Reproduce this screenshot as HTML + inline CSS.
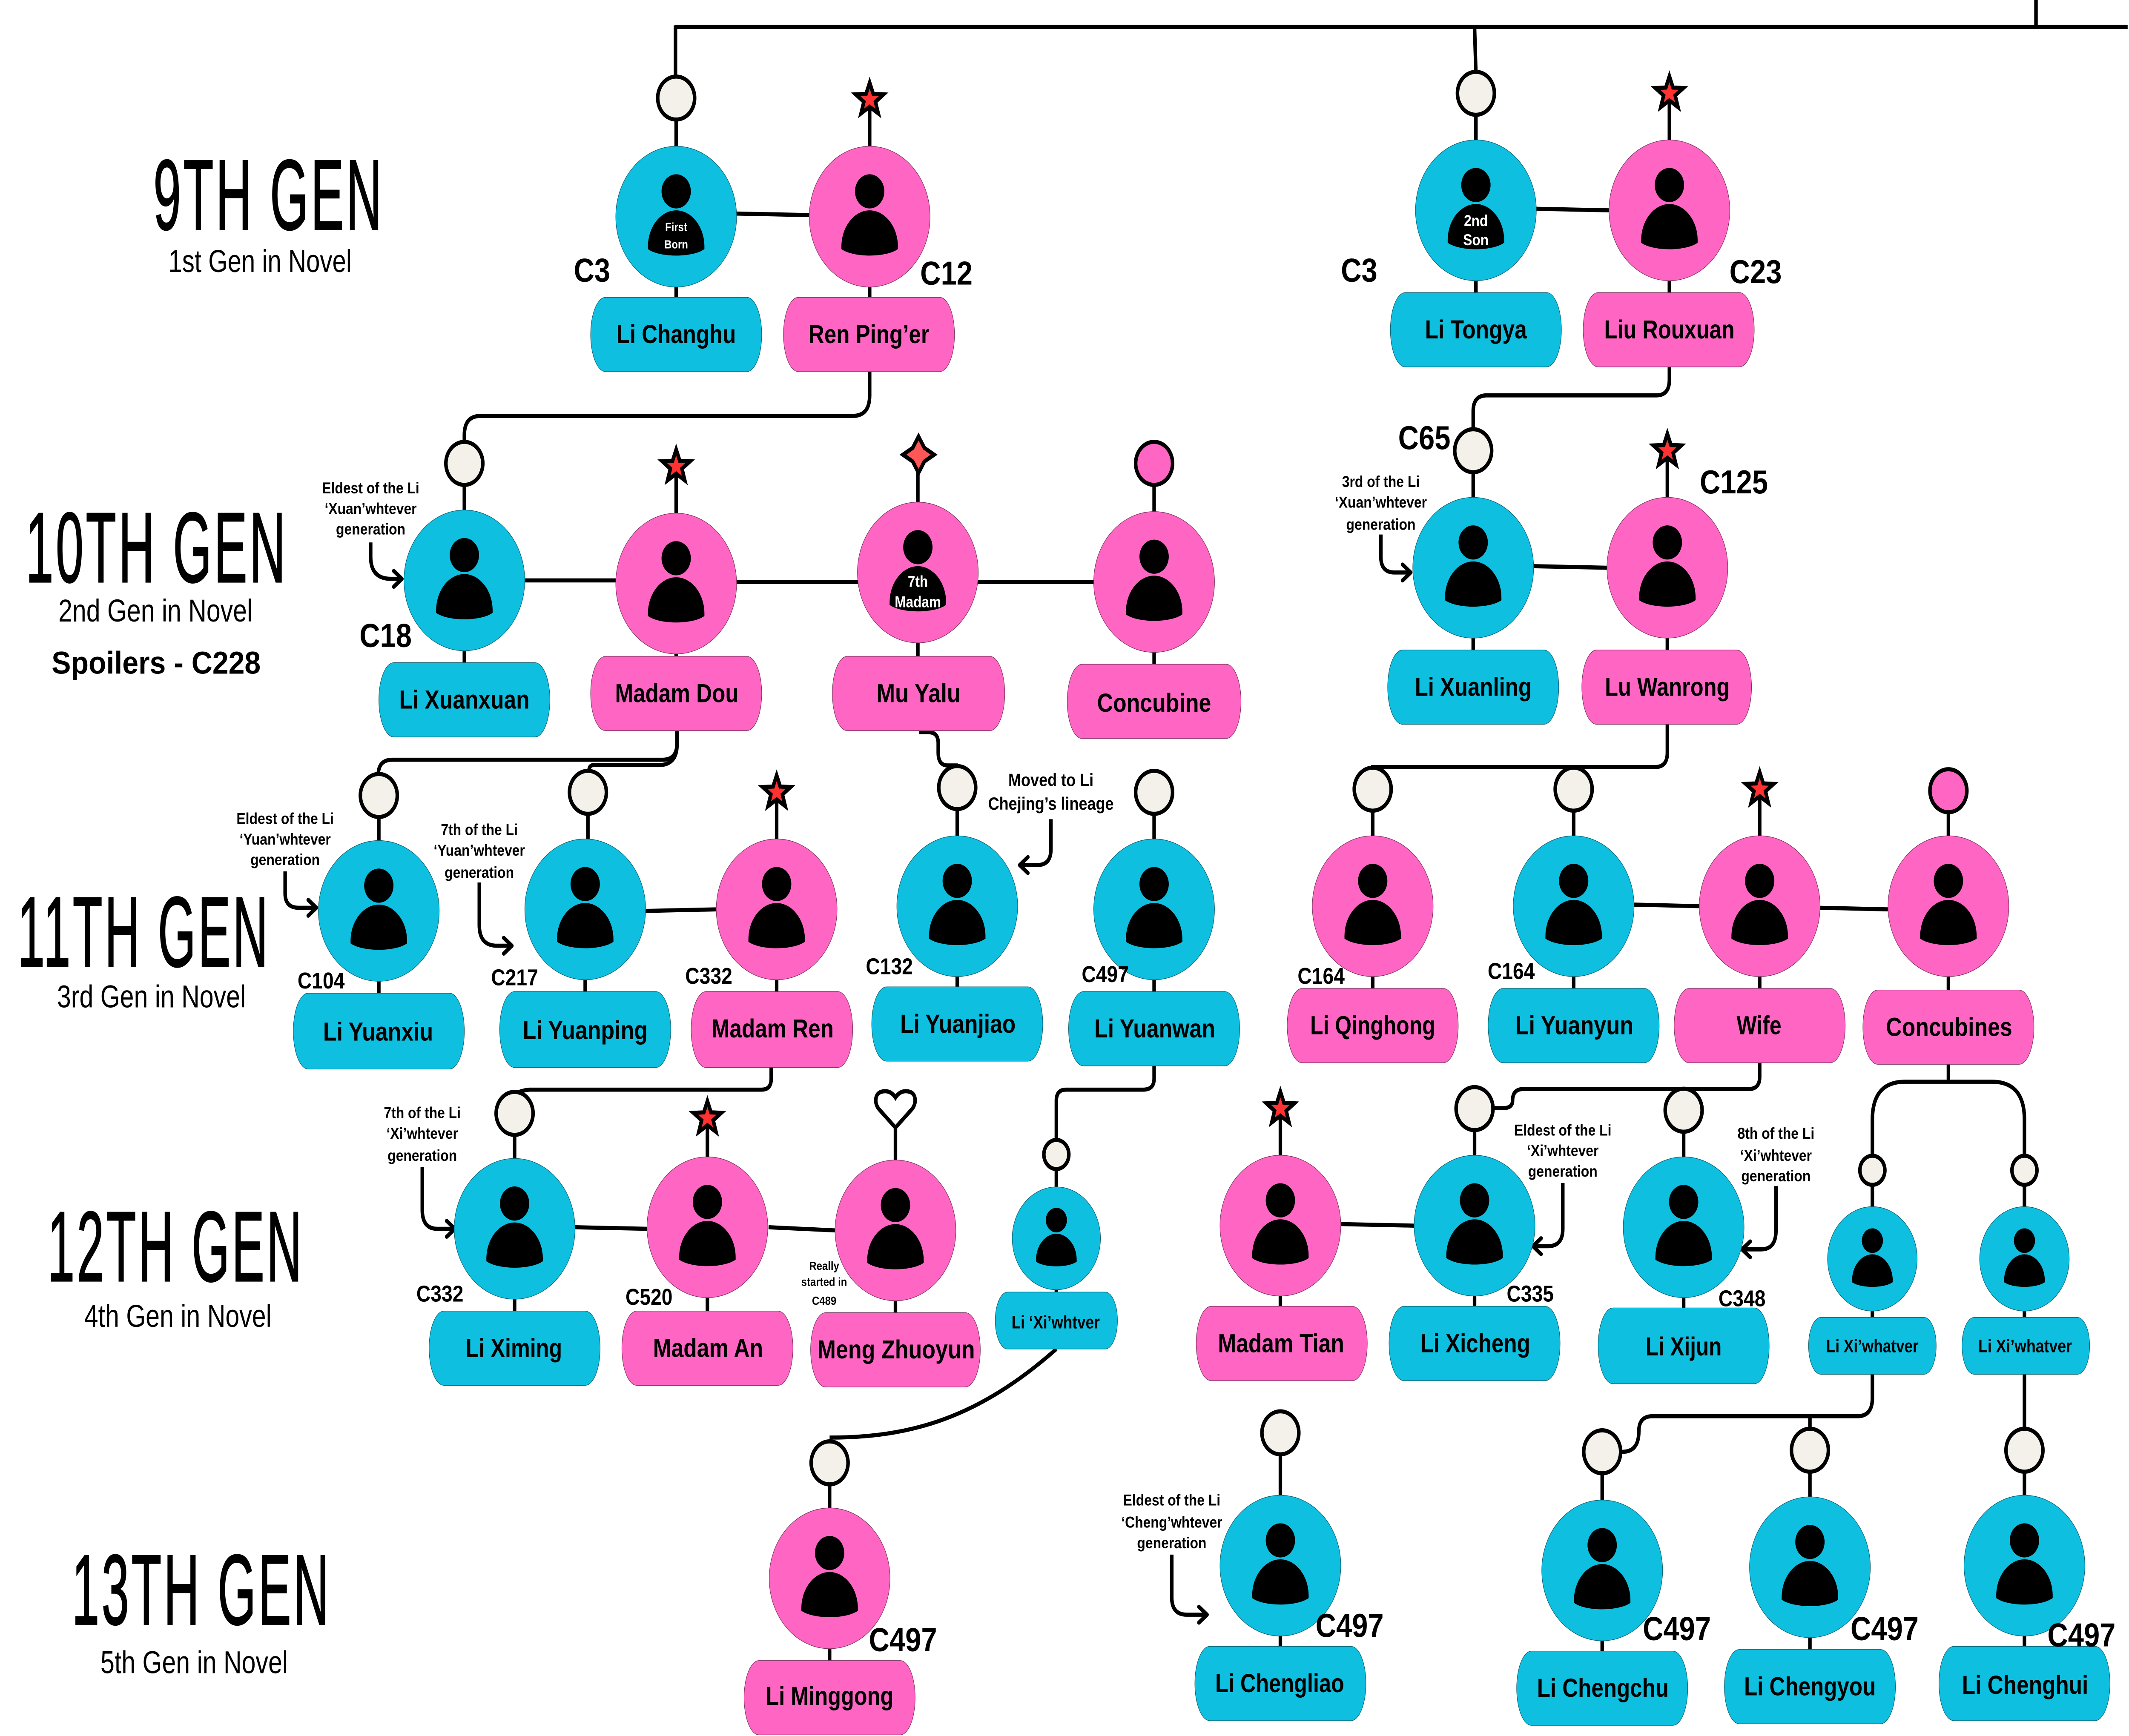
<!DOCTYPE html>
<html><head><meta charset="utf-8"><style>
html,body{margin:0;padding:0;background:#fff;width:100%;height:100%;overflow:hidden}
svg{display:block;width:100vw;height:4078px}
text{font-family:"Liberation Sans",sans-serif;fill:#000;text-anchor:middle}
.h{font-family:"Liberation Sans Narrow","Liberation Sans",sans-serif;font-size:63px;letter-spacing:3px;stroke:#000;stroke-width:.8}
.s{font-size:20px;text-anchor:start}
.n{font-size:16.5px;font-weight:700}
.c{font-size:21px;font-weight:700}
.d{font-size:14.5px;font-weight:700}
.a{font-size:10px;font-weight:700}
.i{font-weight:700;fill:#fff}
.l{fill:none;stroke:#000;stroke-width:2.6}
.r{stroke-linecap:round;stroke-linejoin:round}
.b{fill:#0EBFE0;stroke:#0a5f70;stroke-width:.35}
.p{fill:#FF66C4;stroke:#7a2f5e;stroke-width:.35}
.o{fill:#F4F0EA;stroke:#000;stroke-width:2.6}
.q{fill:#FF66C4;stroke:#000;stroke-width:2.6}
.st{fill:#FF3131;stroke:#000;stroke-width:2.6}
</style></head><body>
<svg xmlns="http://www.w3.org/2000/svg" viewBox="0 0 1568 1097.7" preserveAspectRatio="none">
<defs>
<g id="u"><circle cx="0" cy="-16" r="10.8"/><path d="M-20.8,19C-20.8,6-11,-4 0,-4C11,-4 20.8,6 20.8,19L20.8,20.5C16,23.5 7,24.6 0,24.6C-7,24.6-16,23.5-20.8,20.5Z"/></g>
<polygon id="s" class="st" points="0,-10.8 2.65,-3.64 10.27,-3.34 4.28,1.39 6.35,8.74 0,4.5 -6.35,8.74 -4.28,1.39 -10.27,-3.34 -2.65,-3.64"/>
</defs>
<rect width="1568" height="1097.7" fill="#fff"/>

<g class="l">
<path d="M497,17H1567M497.5,16V48M1086,17L1087,46M1499.5,0V17"/>
<path d="M498,62V235M640.5,63V235M1087,59V232M1229.5,59V232"/>
<path d="M342,293V466M498,295V462M676,288V462M850,293V467M1085,285V458M1228,285V458"/>
<path d="M279,503V676M433,501V531M431,531V675M572,501V675M705,498V671M850,501V674M1011,499V672M1159,499V672M1296,499V672M1435,500V673"/>
<path d="M379,704V876M521,707V876M659.5,701V877M778,730V853M943,701V873M1086,701V873M1240,702V875M1379,740V869M1491,740V869"/>
<path d="M611,925V1050M943,906V1041M1180,918V1044M1333,917V1043M1491,917V1041"/>
<path d="M540,135L596,136M1130,132L1185,133M386,367H454M542,368H632M720,368H806M1129,358L1184,359M475,576L528,575M1203,572L1252,573M1340,574L1391,575M423,776L477,777M566,776L615,778M987,774L1042,775"/>
<path d="M640.5,235V250Q640.5,263 628,263H354Q342,263 342,275V282"/>
<path d="M1229.5,232V240Q1229.5,250 1220,250H1095Q1085,250 1085,260V272"/>
<path d="M498.6,462V470Q498.6,480.4 488,480.4H289Q278.6,480.4 278.6,490"/>
<path d="M498.6,462V472Q498,483.8 485,483.8H437Q433.7,483.8 433.7,488"/>
<path d="M677,463H684Q691,463 691,470V476Q691,484 698,484H705.5"/>
<path d="M1228,458V476Q1228,485 1219,485H1011V487M1159,485V488"/>
<path d="M568,675V682Q568,689 561,689H390Q379,690 379,694"/>
<path d="M850,674V682Q850,689 842,689H785Q778,689 778,696V720"/>
<path d="M1296,672V681Q1296,688.6 1288,688.6H1122Q1114,688.6 1114,696Q1114,700.7 1107,700.7H1097M1240,689V692"/>
<path d="M1435,673V684M1379,730V708Q1379,684 1403,684H1467Q1491,684 1491,708V730"/>
<path d="M1379,869V884Q1379,895.5 1368,895.5H1217Q1207,895.5 1207,905Q1207,918 1195,918H1190M1333,895.5V905M1491,869V905"/>
<path d="M778,853C720,897 670,909 611,909"/>
</g>
<g class="l">
<path d="M273,343V352Q273,366 288,366H295"/><path d="M1017,338V352Q1017,362 1027,362H1038"/><path d="M210,551V565Q210,574 220,574H232"/><path d="M353,558V585Q353,598 366,598H376"/><path d="M774,518V537Q774,547 764,547H752"/><path d="M311,738V765Q311,777 322,777H334"/><path d="M1151,748V777Q1151,788 1140,788H1130"/><path d="M1308,750V778Q1308,790 1297,790H1284"/><path d="M863,983V1010Q863,1021 874,1021H888"/>
</g>
<g class="l r">
<path d="M290,361L296,366L290,371"/><path d="M1033,357L1039,362L1033,367"/><path d="M227,569L233,574L227,579"/><path d="M371,593L377,598L371,603"/><path d="M757,542L751,547L757,552"/><path d="M329,772L335,777L329,782"/><path d="M1135,783L1129,788L1135,793"/><path d="M1289,785L1283,790L1289,795"/><path d="M883,1016L889,1021L883,1026"/>
</g>

<g class="o">
<circle cx="498" cy="62" r="13.6"/><circle cx="1087" cy="59" r="13.6"/>
<circle cx="342" cy="293" r="13.6"/><circle cx="1085" cy="285" r="13.6"/>
<circle cx="279" cy="503" r="13.6"/><circle cx="433" cy="501" r="13.6"/><circle cx="705" cy="498" r="13.6"/><circle cx="850" cy="501" r="13.6"/><circle cx="1011" cy="499" r="13.6"/><circle cx="1159" cy="499" r="13.6"/>
<circle cx="379" cy="704" r="13.6"/><circle cx="778" cy="730" r="9.2"/><circle cx="1086" cy="701" r="13.6"/><circle cx="1240" cy="702" r="13.6"/><circle cx="1379" cy="740" r="9.2"/><circle cx="1491" cy="740" r="9.2"/>
<circle cx="611" cy="925" r="13.6"/><circle cx="943" cy="906" r="13.6"/><circle cx="1180" cy="918" r="13.6"/><circle cx="1333" cy="917" r="13.6"/><circle cx="1491" cy="917" r="13.6"/>
</g>
<circle class="q" cx="850" cy="293" r="13.6"/><circle class="q" cx="1435" cy="500" r="13.6"/>
<use href="#s" x="640.5" y="63"/><use href="#s" x="1229.5" y="59"/><use href="#s" x="498" y="295"/><use href="#s" x="1228" y="285"/><use href="#s" x="572" y="501"/><use href="#s" x="1296" y="499"/><use href="#s" x="521" y="707"/><use href="#s" x="943" y="701"/>
<path d="M676.5,276L680.8,283.2L688,287.5L680.8,291.8L676.5,299L672.2,291.8L665,287.5L672.2,283.2Z" fill="#FF5757" stroke="#000" stroke-width="2.6" stroke-miterlimit="8"/>
<path d="M659.5,713L647,701Q645,698.5 645,696Q645,690 652,690Q656.5,690 659.5,694Q662.5,690 667,690Q674,690 674,696Q674,698.5 672,701Z" fill="#fff" stroke="#000" stroke-width="2.6"/>

<g class="b">
<circle cx="498" cy="137" r="44.5"/><circle cx="1087" cy="133" r="44.5"/><circle cx="342" cy="367" r="44.5"/><circle cx="1085" cy="359" r="44.5"/>
<circle cx="279" cy="576" r="44.5"/><circle cx="431" cy="575" r="44.5"/><circle cx="705" cy="573" r="44.5"/><circle cx="850" cy="575" r="44.5"/><circle cx="1159" cy="573" r="44.5"/>
<circle cx="379" cy="777" r="44.5"/><circle cx="778" cy="783" r="32.5"/><circle cx="1086" cy="775" r="44.5"/><circle cx="1240" cy="776" r="44.5"/><circle cx="1379" cy="796" r="33"/><circle cx="1491" cy="796" r="33"/>
<circle cx="943" cy="990" r="44.5"/><circle cx="1180" cy="993" r="44.5"/><circle cx="1333" cy="991" r="44.5"/><circle cx="1491" cy="990" r="44.5"/>
</g>
<g class="p">
<circle cx="640.5" cy="137" r="44.5"/><circle cx="1229.5" cy="133" r="44.5"/><circle cx="498" cy="369" r="44.5"/><circle cx="676" cy="362" r="44.5"/><circle cx="850" cy="368" r="44.5"/><circle cx="1228" cy="359" r="44.5"/>
<circle cx="572" cy="575" r="44.5"/><circle cx="1011" cy="573" r="44.5"/><circle cx="1296" cy="573" r="44.5"/><circle cx="1435" cy="573" r="44.5"/>
<circle cx="521" cy="776" r="44.5"/><circle cx="659.5" cy="778" r="44.5"/><circle cx="943" cy="775" r="44.5"/><circle cx="611" cy="998" r="44.5"/>
</g>
<g>
<use href="#u" x="498" y="137"/><use href="#u" x="640.5" y="137"/><use href="#u" x="1087" y="133"/><use href="#u" x="1229.5" y="133"/>
<use href="#u" x="342" y="367"/><use href="#u" x="498" y="369"/><use href="#u" x="676" y="362"/><use href="#u" x="850" y="368"/><use href="#u" x="1085" y="359"/><use href="#u" x="1228" y="359"/>
<use href="#u" x="279" y="576"/><use href="#u" x="431" y="575"/><use href="#u" x="572" y="575"/><use href="#u" x="705" y="573"/><use href="#u" x="850" y="575"/><use href="#u" x="1011" y="573"/><use href="#u" x="1159" y="573"/><use href="#u" x="1296" y="573"/><use href="#u" x="1435" y="573"/>
<use href="#u" x="379" y="777"/><use href="#u" x="521" y="776"/><use href="#u" x="659.5" y="778"/><use href="#u" x="943" y="775"/><use href="#u" x="1086" y="775"/><use href="#u" x="1240" y="776"/>
<use href="#u" x="611" y="998"/><use href="#u" x="943" y="990"/><use href="#u" x="1180" y="993"/><use href="#u" x="1333" y="991"/><use href="#u" x="1491" y="990"/>
<use href="#u" transform="translate(778,783) scale(.72)"/><use href="#u" transform="translate(1379,796) scale(.72)"/><use href="#u" transform="translate(1491,796) scale(.72)"/>
</g>

<g class="b">
<rect x="435" y="188" width="126" height="47" rx="11" ry="23.5"/><rect x="1024" y="185" width="126" height="47" rx="11" ry="23.5"/>
<rect x="279" y="419" width="126" height="47" rx="11" ry="23.5"/><rect x="1022" y="411" width="126" height="47" rx="11" ry="23.5"/>
<rect x="216" y="628" width="126" height="48" rx="11" ry="24"/><rect x="368" y="627" width="126" height="48" rx="11" ry="24"/><rect x="642" y="624" width="126" height="47" rx="11" ry="23.5"/><rect x="787" y="627" width="126" height="47" rx="11" ry="23.5"/><rect x="1096" y="625" width="126" height="47" rx="11" ry="23.5"/>
<rect x="316" y="829" width="126" height="47" rx="11" ry="23.5"/><rect x="733" y="817" width="90" height="36" rx="9" ry="18"/><rect x="1023" y="826" width="126" height="47" rx="11" ry="23.5"/><rect x="1177" y="827" width="126" height="48" rx="11" ry="24"/><rect x="1332" y="833" width="94" height="36" rx="9" ry="18"/><rect x="1445" y="833" width="94" height="36" rx="9" ry="18"/>
<rect x="880" y="1041" width="126" height="47" rx="11" ry="23.5"/><rect x="1117" y="1044" width="126" height="47" rx="11" ry="23.5"/><rect x="1270" y="1043" width="126" height="47" rx="11" ry="23.5"/><rect x="1428" y="1041" width="126" height="47" rx="11" ry="23.5"/>
</g>
<g class="p">
<rect x="577" y="188" width="126" height="47" rx="11" ry="23.5"/><rect x="1166" y="185" width="126" height="47" rx="11" ry="23.5"/>
<rect x="435" y="415" width="126" height="47" rx="11" ry="23.5"/><rect x="613" y="415" width="127" height="47" rx="11" ry="23.5"/><rect x="786" y="420" width="128" height="47" rx="11" ry="23.5"/><rect x="1165" y="411" width="125" height="47" rx="11" ry="23.5"/>
<rect x="509" y="627" width="119" height="48" rx="11" ry="24"/><rect x="948" y="625" width="126" height="47" rx="11" ry="23.5"/><rect x="1233" y="625" width="126" height="47" rx="11" ry="23.5"/><rect x="1372" y="626" width="126" height="47" rx="11" ry="23.5"/>
<rect x="458" y="829" width="126" height="47" rx="11" ry="23.5"/><rect x="597" y="830" width="125" height="47" rx="11" ry="23.5"/><rect x="881" y="826" width="126" height="47" rx="11" ry="23.5"/>
<rect x="548" y="1050" width="126" height="47" rx="11" ry="23.5"/>
</g>

<text class="h" x="198" y="145" textLength="170" lengthAdjust="spacingAndGlyphs">9TH GEN</text>
<text class="h" x="115.500" y="368" textLength="193" lengthAdjust="spacingAndGlyphs">10TH GEN</text>
<text class="h" x="106" y="611" textLength="186" lengthAdjust="spacingAndGlyphs">11TH GEN</text>
<text class="h" x="129.500" y="810" textLength="189" lengthAdjust="spacingAndGlyphs">12TH GEN</text>
<text class="h" x="148.500" y="1027" textLength="191" lengthAdjust="spacingAndGlyphs">13TH GEN</text>
<text class="s" x="124" y="172" textLength="135" lengthAdjust="spacingAndGlyphs">1st Gen in Novel</text>
<text class="s" x="43" y="393" textLength="143" lengthAdjust="spacingAndGlyphs">2nd Gen in Novel</text>
<text class="s" x="42" y="637" textLength="139" lengthAdjust="spacingAndGlyphs">3rd Gen in Novel</text>
<text class="s" x="62" y="839" textLength="138" lengthAdjust="spacingAndGlyphs">4th Gen in Novel</text>
<text class="s" x="74" y="1058" textLength="138" lengthAdjust="spacingAndGlyphs">5th Gen in Novel</text>
<text x="115" y="426" font-size="20" font-weight="700" textLength="154" lengthAdjust="spacingAndGlyphs">Spoilers - C228</text>

<g class="n">
<text x="498" y="217" textLength="88" lengthAdjust="spacingAndGlyphs">Li Changhu</text>
<text x="640" y="217" textLength="89" lengthAdjust="spacingAndGlyphs">Ren Ping’er</text>
<text x="1087" y="214" textLength="75" lengthAdjust="spacingAndGlyphs">Li Tongya</text>
<text x="1229.500" y="214" textLength="96" lengthAdjust="spacingAndGlyphs">Liu Rouxuan</text>
<text x="342" y="448" textLength="96" lengthAdjust="spacingAndGlyphs">Li Xuanxuan</text>
<text x="498.500" y="444" textLength="91" lengthAdjust="spacingAndGlyphs">Madam Dou</text>
<text x="676.500" y="444" textLength="62" lengthAdjust="spacingAndGlyphs">Mu Yalu</text>
<text x="850" y="450" textLength="84" lengthAdjust="spacingAndGlyphs">Concubine</text>
<text x="1085" y="440" textLength="86" lengthAdjust="spacingAndGlyphs">Li Xuanling</text>
<text x="1228" y="440" textLength="92" lengthAdjust="spacingAndGlyphs">Lu Wanrong</text>
<text x="278.500" y="658" textLength="81" lengthAdjust="spacingAndGlyphs">Li Yuanxiu</text>
<text x="431" y="657" textLength="92" lengthAdjust="spacingAndGlyphs">Li Yuanping</text>
<text x="569" y="656" textLength="90" lengthAdjust="spacingAndGlyphs">Madam Ren</text>
<text x="705.500" y="653" textLength="85" lengthAdjust="spacingAndGlyphs">Li Yuanjiao</text>
<text x="850.500" y="656" textLength="89" lengthAdjust="spacingAndGlyphs">Li Yuanwan</text>
<text x="1011" y="654" textLength="92" lengthAdjust="spacingAndGlyphs">Li Qinghong</text>
<text x="1159.500" y="654" textLength="87" lengthAdjust="spacingAndGlyphs">Li Yuanyun</text>
<text x="1295.500" y="654" textLength="33" lengthAdjust="spacingAndGlyphs">Wife</text>
<text x="1435.500" y="655" textLength="93" lengthAdjust="spacingAndGlyphs">Concubines</text>
<text x="378.500" y="858" textLength="71" lengthAdjust="spacingAndGlyphs">Li Ximing</text>
<text x="521.500" y="858" textLength="81" lengthAdjust="spacingAndGlyphs">Madam An</text>
<text x="660" y="859" textLength="116" lengthAdjust="spacingAndGlyphs">Meng Zhuoyun</text>
<text x="943.500" y="855" textLength="93" lengthAdjust="spacingAndGlyphs">Madam Tian</text>
<text x="1086.500" y="855" textLength="81" lengthAdjust="spacingAndGlyphs">Li Xicheng</text>
<text x="1240" y="857" textLength="56" lengthAdjust="spacingAndGlyphs">Li Xijun</text>
<text x="611" y="1078" textLength="94" lengthAdjust="spacingAndGlyphs">Li Minggong</text>
<text x="942.500" y="1070" textLength="95" lengthAdjust="spacingAndGlyphs">Li Chengliao</text>
<text x="1180.500" y="1073" textLength="97" lengthAdjust="spacingAndGlyphs">Li Chengchu</text>
<text x="1333" y="1072" textLength="97" lengthAdjust="spacingAndGlyphs">Li Chengyou</text>
<text x="1491.500" y="1071" textLength="93" lengthAdjust="spacingAndGlyphs">Li Chenghui</text>
</g>
<g font-size="11.500" font-weight="700">
<text x="777.500" y="840" textLength="65" lengthAdjust="spacingAndGlyphs">Li ‘Xi’whtver</text>
<text x="1379" y="855" textLength="68" lengthAdjust="spacingAndGlyphs">Li Xi’whatver</text>
<text x="1491.500" y="855" textLength="69" lengthAdjust="spacingAndGlyphs">Li Xi’whatver</text>
</g>

<g class="c">
<text x="436" y="178">C3</text><text x="697" y="180">C12</text><text x="1001" y="178">C3</text><text x="1293" y="179">C23</text><text x="1049" y="284">C65</text><text x="1277" y="312">C125</text><text x="284" y="409">C18</text>
<text x="665" y="1044">C497</text><text x="994" y="1035">C497</text><text x="1235" y="1037">C497</text><text x="1388" y="1037">C497</text><text x="1533" y="1041">C497</text>
</g>
<g class="d">
<text x="236.500" y="625">C104</text><text x="379" y="623">C217</text><text x="522" y="622">C332</text><text x="655" y="616">C132</text><text x="814" y="621">C497</text><text x="973" y="622">C164</text><text x="1113" y="619">C164</text><text x="324" y="823">C332</text><text x="478" y="825">C520</text><text x="1127" y="823">C335</text><text x="1283" y="826">C348</text>
</g>

<g class="a">
<text x="273" y="312">Eldest of the Li</text><text x="273" y="325">‘Xuan’whtever</text><text x="273" y="338">generation</text>
<text x="1017" y="308">3rd of the Li</text><text x="1017" y="321">‘Xuan’whtever</text><text x="1017" y="335">generation</text>
<text x="210" y="521">Eldest of the Li</text><text x="210" y="534">‘Yuan’whtever</text><text x="210" y="547">generation</text>
<text x="353" y="528">7th of the Li</text><text x="353" y="541">‘Yuan’whtever</text><text x="353" y="555">generation</text>
<text x="311" y="707">7th of the Li</text><text x="311" y="720">‘Xi’whtever</text><text x="311" y="734">generation</text>
<text x="1151" y="718">Eldest of the Li</text><text x="1151" y="731">‘Xi’whtever</text><text x="1151" y="744">generation</text>
<text x="1308" y="720">8th of the Li</text><text x="1308" y="734">‘Xi’whtever</text><text x="1308" y="747">generation</text>
<text x="863" y="952">Eldest of the Li</text><text x="863" y="966">‘Cheng’whtever</text><text x="863" y="979">generation</text>
</g>
<g font-size="11.300" font-weight="700">
<text x="774" y="497">Moved to Li</text><text x="774" y="512">Chejing’s lineage</text>
</g>
<g font-size="7.500" font-weight="700">
<text x="607" y="803">Really</text><text x="607" y="813">started in</text><text x="607" y="825">C489</text>
</g>
<g>
<text class="i" x="498" y="146" font-size="7.500">First</text><text class="i" x="498" y="157" font-size="7.500">Born</text>
<text class="i" x="1087" y="143" font-size="9.900">2nd</text><text class="i" x="1087" y="155" font-size="9.900">Son</text>
<text class="i" x="676" y="371" font-size="9.900">7th</text><text class="i" x="676" y="384" font-size="9.900">Madam</text>
</g>
</svg>
</body></html>
